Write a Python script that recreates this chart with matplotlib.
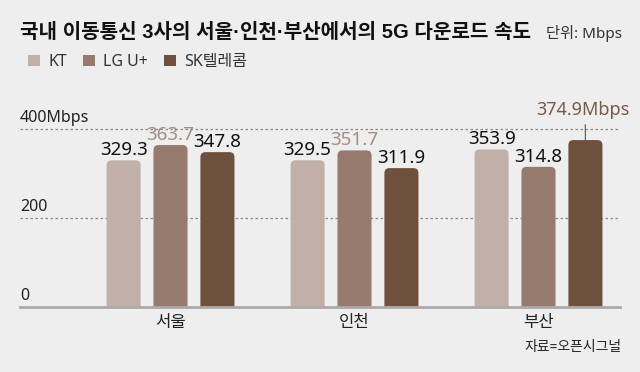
import matplotlib.pyplot as plt
from matplotlib.patches import FancyBboxPatch, Patch
import numpy as np

plt.rcParams['font.family'] = ['Noto Sans', 'Noto Sans CJK KR', 'DejaVu Sans']

# Data
cities = ['서울', '인천', '부산']
carriers = ['KT', 'LG U+', 'SK텔레콤']
kt = [329.3, 329.5, 353.9]
lgu = [363.7, 351.7, 314.8]
skt = [347.8, 311.9, 374.9]
grid_vals = [0, 200, 400]
grid_labels = ['0', '200', '400Mbps']

colors = ['#c1b0a8', '#957a6d', '#6e503d']
hi_colors = ['#a89489', '#a38d81', '#7a5a47']
bg = '#eeeeee'

W, H = 640, 372
fig = plt.figure(figsize=(W / 100, H / 100), dpi=100, facecolor=bg)
ax = fig.add_axes([20 / W, 65 / H, 600 / W, 187 / H])
ax.set_facecolor(bg)
ax.set_xlim(-0.818, 2.443)
ax.set_ylim(0, 420)
for s in ax.spines.values():
    s.set_visible(False)
ax.set_yticks([])
ax.set_xticks(np.arange(len(cities)), cities)
ax.tick_params(axis='x', length=0, pad=6, labelsize=12, labelcolor='#222222')

# grid + baseline
for v, lab in zip(grid_vals, grid_labels):
    if v > 0:
        ax.axhline(v, color='#8a8a8a', lw=0.9, ls=(0, (2, 2)), zorder=0)
    ax.annotate(lab, (0, v), xycoords=('axes fraction', 'data'),
                xytext=(0, 7), textcoords='offset pixels',
                ha='left', va='baseline', fontsize=11.5, color='#222222')
ax.axhline(0, color='#aaaaaa', lw=2, zorder=3, clip_on=False)

# bars with rounded tops
series = [kt, lgu, skt]
x = np.arange(len(cities))
width = 0.185
offsets = [-0.255, 0, 0.255]
px_x = 600 / (2.443 + 0.818)
px_y = 187 / 420
aspect = px_x / px_y
r = 5 / px_x
for vals, off, c in zip(series, offsets, colors):
    for xi, v in zip(x, vals):
        p = FancyBboxPatch((xi + off - width / 2, -40), width, v + 40,
                           boxstyle=f'round,pad=0,rounding_size={r}',
                           mutation_aspect=aspect, fc=c, ec='none', zorder=2)
        ax.add_patch(p)

# value labels, group max highlighted
for gi in range(len(cities)):
    group = [s[gi] for s in series]
    top = int(np.argmax(group))
    for si, (vals, off) in enumerate(zip(series, offsets)):
        v = vals[gi]
        if si == top and gi == 2:
            ax.annotate(f'{v}Mbps', (gi + off, v), xytext=(-3, 25),
                        textcoords='offset pixels', ha='center', va='baseline',
                        fontsize=13, color=hi_colors[si],
                        arrowprops=dict(arrowstyle='-', color='#555555', lw=0.8,
                                        shrinkA=2, shrinkB=0,
                                        relpos=(0.53, 0)))
        else:
            col = hi_colors[si] if si == top else '#111111'
            ax.annotate(f'{v}', (gi + off, v), xytext=(0, 5),
                        textcoords='offset pixels', ha='center', va='baseline',
                        fontsize=13.5, color=col)

# title
fig.text(20 / W, 1 - 32 / H, '국내 이동통신 3사의 서울·인천·부산에서의 5G 다운로드 속도',
         fontsize=14.5, fontweight='bold', color='#111111', va='center', ha='left',
         family=['Liberation Sans', 'Noto Sans CJK KR'])
fig.text(622 / W, 1 - 33 / H, '단위: Mbps', fontsize=11, color='#333333',
         va='center', ha='right')

# legend
handles = [Patch(fc=c, ec='none') for c in colors]
fig.legend(handles, carriers, loc='center left', bbox_to_anchor=(14 / W, 1 - 62 / H),
           ncol=3, frameon=False, fontsize=11.5, handlelength=0.75, handleheight=0.75,
           handletextpad=0.5, columnspacing=1.0, labelcolor='#333333')

fig.text(622 / W, 1 - 348 / H, '자료=오픈시그널', fontsize=10, color='#222222',
         va='center', ha='right')

fig.savefig('out.png', dpi=100, facecolor=bg)
